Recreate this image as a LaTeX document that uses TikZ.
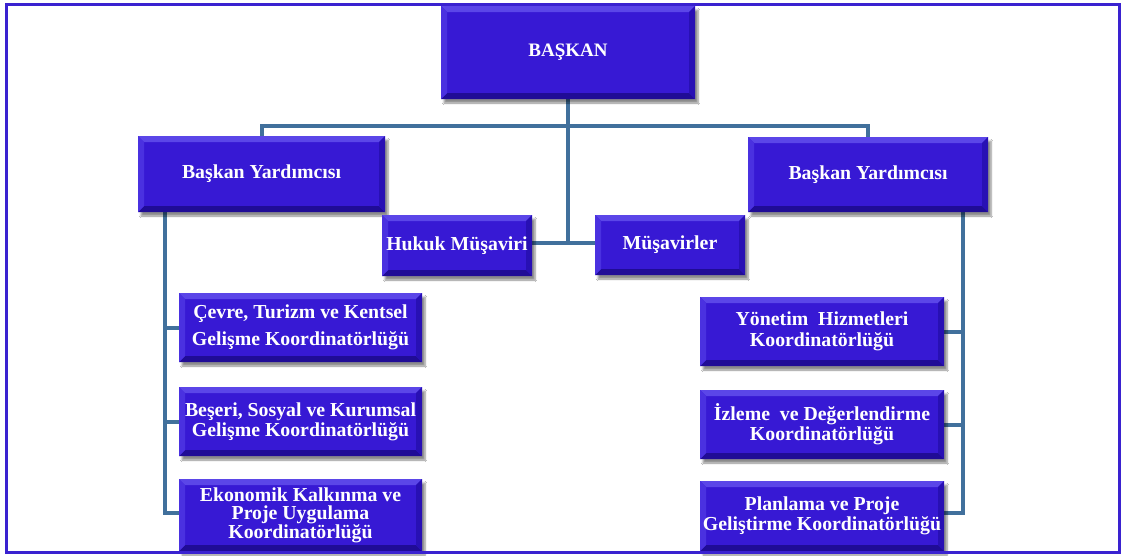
\documentclass[tikz,border=0pt]{standalone}
\usepackage{fontspec}
\setmainfont{Liberation Serif}
\usetikzlibrary{shadows.blur,backgrounds}
\definecolor{boxblue}{HTML}{3719D4}
\definecolor{bevtop}{HTML}{5B46E8}
\definecolor{bevleft}{HTML}{4A31E0}
\definecolor{bevright}{HTML}{2810B4}
\definecolor{bevbot}{HTML}{200C96}
\definecolor{linkcol}{HTML}{41709C}
\definecolor{framecol}{HTML}{3A22D0}
\tikzset{
  orgbox/.style={rectangle, fill=boxblue, inner sep=2pt, text=white, align=center,
    font=\bfseries\fontsize{19.8}{20}\selectfont,
    blur shadow={shadow xshift=3pt, shadow yshift=-4pt, shadow blur steps=6, shadow opacity=45},
    path picture={
      \fill[bevtop] (path picture bounding box.north west) -- (path picture bounding box.north east)
        -- ([xshift=-6pt,yshift=-6pt]path picture bounding box.north east)
        -- ([xshift=6pt,yshift=-6pt]path picture bounding box.north west) -- cycle;
      \fill[bevbot] (path picture bounding box.south west) -- (path picture bounding box.south east)
        -- ([xshift=-6pt,yshift=6pt]path picture bounding box.south east)
        -- ([xshift=6pt,yshift=6pt]path picture bounding box.south west) -- cycle;
      \fill[bevleft] (path picture bounding box.north west) -- (path picture bounding box.south west)
        -- ([xshift=6pt,yshift=6pt]path picture bounding box.south west)
        -- ([xshift=6pt,yshift=-6pt]path picture bounding box.north west) -- cycle;
      \fill[bevright] (path picture bounding box.north east) -- (path picture bounding box.south east)
        -- ([xshift=-6pt,yshift=6pt]path picture bounding box.south east)
        -- ([xshift=-6pt,yshift=-6pt]path picture bounding box.north east) -- cycle;
    }},
  link/.style={draw=linkcol, line width=4pt}
}
\begin{document}
\begin{tikzpicture}[x=1pt,y=-1pt]
\useasboundingbox (0,0) rectangle (1121,555);
% nodes
\node[orgbox, minimum width=254pt, minimum height=93pt, font=\bfseries\fontsize{19}{20}\selectfont] (bas) at (568,52.5) {BAŞKAN};
\node[orgbox, minimum width=247pt, minimum height=76pt] (byl) at (261.5,174) {Başkan Yardımcısı};
\node[orgbox, minimum width=240pt, minimum height=75pt] (byr) at (868,174.5) {Başkan Yardımcısı};
\node[orgbox, minimum width=150pt, minimum height=61pt] (huk) at (457,245.5) {Hukuk Müşaviri};
\node[orgbox, minimum width=150pt, minimum height=60pt] (mus) at (670,245) {Müşavirler};
\node[orgbox, minimum width=243pt, minimum height=69pt] (c1) at (300.5,327.5) {Çevre, Turizm ve Kentsel\\[7pt]Gelişme Koordinatörlüğü};
\node[orgbox, minimum width=243pt, minimum height=69pt] (c2) at (300.5,421.5) {Beşeri, Sosyal ve Kurumsal\\Gelişme Koordinatörlüğü};
\node[orgbox, minimum width=243pt, minimum height=72pt, font=\bfseries\fontsize{19.8}{18.5}\selectfont] (c3) at (300.5,515) {Ekonomik Kalkınma ve\\Proje Uygulama\\Koordinatörlüğü};
\node[orgbox, minimum width=244pt, minimum height=69pt] (r1) at (822,331.5) {Yönetim\ \ Hizmetleri\\[1pt]Koordinatörlüğü};
\node[orgbox, minimum width=244pt, minimum height=69pt] (r2) at (822,424.5) {İzleme\ \ ve Değerlendirme\\Koordinatörlüğü};
\node[orgbox, minimum width=244pt, minimum height=70pt] (r3) at (822,516) {Planlama ve Proje\\Geliştirme Koordinatörlüğü};
% connectors
\coordinate (topbar) at (568,126);
\coordinate (mid) at (568,243);
\coordinate (lv) at (165,212);
\coordinate (rv) at (963,212);
\coordinate (lowbar) at (0,513);
\begin{scope}[on background layer]
\fill[white] (0,0) rectangle (1121,555);
\draw[link] (bas.south) -- (mid);
\draw[link] (byl.north) |- (topbar) -| (byr.north);
\draw[link] (huk.east |- mid) -- (mus.west |- mid);
\draw[link] (lv) -- (lv |- lowbar) -- (c3.west |- lowbar);
\draw[link] (lv |- c1.west) -- (c1.west);
\draw[link] (lv |- c2.west) -- (c2.west);
\draw[link] (rv) -- (rv |- lowbar) -- (r3.east |- lowbar);
\draw[link] (rv |- r1.east) -- (r1.east);
\draw[link] (rv |- r2.east) -- (r2.east);
\end{scope}
% frame
\draw[framecol, line width=3pt] (6,4) rectangle (1119,552);
\end{tikzpicture}
\end{document}
